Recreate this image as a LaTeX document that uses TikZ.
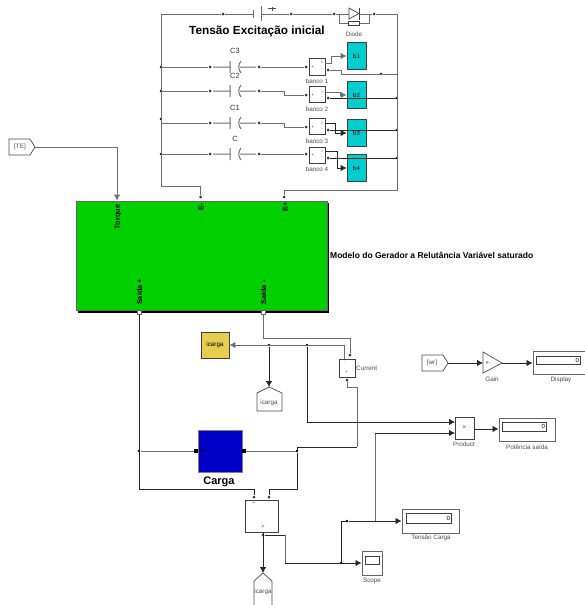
\documentclass[tikz,border=0pt]{standalone}
\usepackage{fontspec}
\setmainfont{Liberation Sans}
\usetikzlibrary{arrows.meta}
\definecolor{wiregray}{RGB}{110,110,110}
\definecolor{modelgreen}{RGB}{0,208,0}
\definecolor{bankcyan}{RGB}{0,205,205}
\definecolor{loadblue}{RGB}{0,0,200}
\definecolor{meteryellow}{RGB}{230,205,80}
\tikzset{
  wire/.style={draw=wiregray, line width=1pt},
  sig/.style={draw=black!85, line width=0.8pt},
  pdot/.style={fill=black!80, circle, inner sep=0pt, minimum size=3pt},
  jdot/.style={fill=black, circle, inner sep=0pt, minimum size=2.6pt},
  blk/.style={draw=black!75, line width=0.8pt, inner sep=0pt},
  bank/.style={blk, fill=white, minimum width=16pt, minimum height=16pt},
  cell/.style={blk, fill=bankcyan, minimum width=19pt, minimum height=27pt, font=\fontsize{6}{7}\selectfont},
  frame/.style={draw=black!60, line width=1pt, fill=white, inner sep=0pt},
  inner/.style={draw=black!75, line width=0.7pt, fill=white, inner sep=0pt},
  tag/.style={text=black!70, font=\fontsize{6.3}{7}\selectfont, inner sep=0pt},
  tiny/.style={text=black!75, font=\fontsize{4.5}{5}\selectfont, inner sep=0pt},
  port/.style={rotate=90, font=\bfseries\fontsize{7.3}{8}\selectfont, inner sep=0pt},
  captag/.style={text=black!80, font=\fontsize{7.5}{8}\selectfont, inner sep=0pt},
  title/.style={font=\bfseries\fontsize{11.8}{13}\selectfont, inner sep=0pt}
}
\begin{document}
\begin{tikzpicture}[x=1pt, y=-1pt, >={Latex[length=6pt,width=6.5pt]}]
\useasboundingbox (0,0) rectangle (585,605);

% excitation source
\coordinate (tl) at (161,14);
\coordinate (tr) at (397,14);
\node[pdot] (batl) at (223,14) {};
\node[pdot] (batr) at (291,14) {};
\node[pdot] (diol) at (334,14) {};
\node[pdot] (dior) at (374,14) {};
\coordinate (batp) at (253,14);
\coordinate (batn) at (261,14);
\draw[wire] (tl) -- (batl);
\draw[wire] (tr) -- (dior);
\draw[wire] (batl) -- (batp);
\draw[wire] (batn) -- (batr);
\draw[wire] (batr) -- (diol);
\draw[wire] (253,10) -- (253,18);
\draw[wire] (261,6) -- (261,21);
\draw[black!70, line width=0.7pt] (268,8.5) -- (276,8.5) (272,6.5) -- (272,10.5);
\draw[wire] (diol) -- (349,14);
\draw[wire] (359,14) -- (dior);
\draw[wire] (339,14) |- (348,23);
\draw[wire] (369,14) |- (359,23);
\draw[black!75, line width=0.7pt, fill=white] (348,21) rectangle (359,25);
\draw[black!75, line width=0.7pt, fill=white] (349,8) -- (359,13.5) -- (349,19) -- cycle;
\draw[black!75, line width=1pt] (359,7.5) -- (359,19.5);
\node[tag] (diodetag) at (354,34) {Diode};
\node[title] (srctitle) at (257,31) {Tensão Excitação inicial};

% capacitor rows
\coordinate (l3) at (161,67);
\coordinate (l2) at (161,91);
\coordinate (l1) at (161,123);
\coordinate (l0) at (161,154);
\node[pdot] (c3a) at (210,67) {};
\node[pdot] (c3b) at (259,67) {};
\node[pdot] (c2a) at (210,91) {};
\node[pdot] (c2b) at (259,91) {};
\node[pdot] (c1a) at (210,123) {};
\node[pdot] (c1b) at (259,123) {};
\node[pdot] (c0a) at (210,154) {};
\node[pdot] (c0b) at (259,154) {};
\node[captag] (c3tag) at (235,51) {C3};
\node[captag] (c2tag) at (235,76) {C2};
\node[captag] (c1tag) at (235,108) {C1};
\node[captag] (c0tag) at (235,139) {C};
\draw[wire] (l3) -- (c3a);
\draw[wire] (l2) -- (c2a);
\draw[wire] (l1) -- (c1a);
\draw[wire] (l0) -- (c0a);
\draw[wire] (213,67) -- (230,67) (230,61) -- (230,73) (241,61) .. controls (238,65) and (238,69) .. (241,73) (240,67) -- (256,67);
\draw[wire] (213,91) -- (230,91) (230,85) -- (230,97) (241,85) .. controls (238,89) and (238,93) .. (241,97) (240,91) -- (256,91);
\draw[wire] (213,123) -- (230,123) (230,117) -- (230,129) (241,117) .. controls (238,121) and (238,125) .. (241,129) (240,123) -- (256,123);
\draw[wire] (213,154) -- (230,154) (230,148) -- (230,160) (241,148) .. controls (238,152) and (238,156) .. (241,160) (240,154) -- (256,154);
\node[jdot] (j3) at (161,67) {};
\node[jdot] (j2) at (161,91) {};
\node[jdot] (j1) at (161,119) {};
\node[jdot] (j0) at (161,154) {};

% voltage banks
\node[bank, minimum height=17pt] (banco1) at (317,66.5) {};
\node[bank] (banco2) at (317,94.5) {};
\node[bank] (banco3) at (317,126.5) {};
\node[bank] (banco4) at (317,155) {};
\node[tag] (banco1tag) at (317,81) {banco 1};
\node[tag] (banco2tag) at (317,109) {banco 2};
\node[tag] (banco3tag) at (317,141) {banco 3};
\node[tag] (banco4tag) at (317,169) {banco 4};
\node[tiny] (b1p) at (313,67) {+};
\node[tiny] (b2p) at (313,95) {+};
\node[tiny] (b3p) at (313,127) {+};
\node[tiny] (b4p) at (313,155) {+};
\node[tiny] (b1i) at (322,62) {i};
\node[tiny] (b2i) at (322,92) {i};
\node[tiny] (b3i) at (322,123) {i};
\node[tiny] (b4i) at (322,151) {i};
\node[tiny] (b1m) at (322,70) {-};
\node[tiny] (b2m) at (322,98) {-};
\node[tiny] (b3m) at (322,130) {-};
\node[tiny] (b4m) at (322,158) {-};
\node[pdot] (b1in) at (306,67) {};
\node[pdot] (b2in) at (306,95) {};
\node[pdot] (b3in) at (306,127) {};
\node[pdot] (b4in) at (306,154) {};
\draw[wire] (c3b) -- (b1in);
\draw[wire] (c2b) -- (284,91) -- (284,95) -- (b2in);
\draw[wire] (c1b) -- (284,123) -- (284,127) -- (b3in);
\draw[wire] (c0b) -- (b4in);
\node[cell] (b1) at (356.5,56) {b1};
\node[cell] (b2) at (356.5,95) {b2};
\node[cell] (b3) at (356.5,133) {b3};
\node[cell] (b4) at (356.5,168) {b4};
\coordinate (o1) at (325,63);
\coordinate (o2) at (325,92);
\coordinate (o3) at (325,123);
\coordinate (o4) at (325,151);
\draw[wire, ->] (o1) -- (331,63) -- (331,56) -- (b1.west);
\draw[wire, ->] (o2) -- (340,92) -- (340,95) -- (b2.west);
\draw[sig, ->] (o3) -- (335,123) -- (335,133) -- (b3.west);
\draw[sig, ->] (o4) -- (337,151) -- (337,168) -- (b4.west);
\node[pdot] (m1) at (328,70) {};
\node[pdot] (m2) at (328,98) {};
\node[pdot] (m3) at (328,130) {};
\node[pdot] (m4) at (328,158) {};
\node[jdot] (r1) at (381,74) {};
\node[jdot] (r2) at (397,98) {};
\node[jdot] (r3) at (397,130) {};
\node[jdot] (r4) at (397,158) {};
\draw[wire] (m1) -- (341,70) -- (341,74) -- (397,74);
\draw[sig] (m2) -- (r2);
\draw[sig] (m3) -- (r3);
\draw[sig] (m4) -- (r4);

% generator model
\coordinate (lb) at (161,186);
\coordinate (rb) at (397,190);
\fill[black] (78,203) rectangle (329,313);
\node[draw=black!60, line width=0.7pt, fill=modelgreen, inner sep=0pt, minimum width=251pt, minimum height=109pt] (model) at (201.5,255.5) {};
\node[pdot] (eneg) at (200.5,197) {};
\node[pdot] (epos) at (284,197) {};
\draw[wire] (tl) -- (lb) -- (200.5,186) -- (eneg);
\draw[wire] (tr) -- (rb) -- (284,190) -- (epos);
\node[port] (torquetag) at (118,217) {Torque};
\node[port] (enegtag) at (201,207) {E-};
\node[port] (epostag) at (285,207) {E+};
\node[port] (spostag) at (139.5,292) {Saída +};
\node[port] (snegtag) at (263.5,292.5) {Saída -};
\node[font=\bfseries\fontsize{8.5}{10}\selectfont, inner sep=0pt, anchor=west] (modeltag) at (330,255) {Modelo do Gerador a Relutância Variável saturado};
\node[draw=black!60, line width=0.6pt, fill=white, inner sep=0pt, minimum size=4pt] (spos) at (139,312) {};
\node[draw=black!60, line width=0.6pt, fill=white, inner sep=0pt, minimum size=4pt] (sneg) at (263,312) {};
\node[tag] (tegoto) at (20,147) {[TE]};
\coordinate (tetip) at (35,147);
\draw[black!70, line width=0.7pt] (9,139) -- (30,139) -- (tetip) -- (30,155) -- (9,155) -- cycle;
\draw[wire, ->] (tetip) -- (117,147) -- (117,200.5);

% current measurement
\node[blk, fill=white, minimum width=16pt, minimum height=18pt] (current) at (347,368) {};
\node[tag, anchor=west] (currenttag) at (356,368) {Current};
\node[tiny] (curp) at (346.5,372.5) {+};
\node[tiny] (curm) at (342,362) {- \ \ .};
\node[pdot] (curin) at (350,355) {};
\node[pdot] (curout) at (347,380) {};
\draw[wire] (sneg) -- (263,338) -- (350,338) -- (curin);
\node[blk, fill=meteryellow, minimum width=28pt, minimum height=26pt, font=\fontsize{6.3}{7}\selectfont] (icmeter) at (215,345) {icarga};
\node[jdot] (ij1) at (269,345) {};
\node[jdot] (ij2) at (307,345) {};
\draw[wire, ->] (344,359) -- (344,345) -- (icmeter.east);
\node[tag] (icgoto) at (269,403) {icarga};
\coordinate (ictip) at (269,387);
\draw[black!70, line width=0.7pt] (ictip) -- (282,393) -- (282,411) -- (257,411) -- (257,393) -- cycle;
\draw[sig, ->] (ij1) -- (ictip);

% load
\node[draw=black!50, line width=0.6pt, fill=loadblue, inner sep=0pt, minimum width=44pt, minimum height=42pt] (carga) at (220,451) {};
\node[font=\bfseries\fontsize{8}{9}\selectfont, inner sep=0pt] (cargap) at (202.5,451) {+};
\node[font=\bfseries\fontsize{8}{9}\selectfont, inner sep=0pt] (cargam) at (238,451) {-};
\node[font=\bfseries\fontsize{11}{13}\selectfont, inner sep=0pt] (cargatag) at (219,482) {Carga};
\node[fill=black, inner sep=0pt, minimum size=4.5pt] (cargal) at (196,451) {};
\node[fill=black, inner sep=0pt, minimum size=4.5pt] (cargar) at (244,451) {};
\node[jdot] (jl) at (139,451) {};
\node[jdot] (jr) at (297,451) {};
\node[pdot] (subp) at (254,497) {};
\node[pdot] (subm) at (269,497) {};
\draw[wire] (jl) -- (cargal);
\draw[wire] (cargar) -- (jr);
\draw[sig] (spos) -- (139,489) -- (254,489) -- (subp);
\draw[sig] (jr) -- (297,489) -- (269,489) -- (subm);
\draw[sig] (jr) -- (297,447) -- (357,447);
\draw[wire] (357,447) -- (357,387) -- (347,387) -- (curout);

% voltage measurement
\node[blk, fill=white, minimum width=33pt, minimum height=32pt] (volt) at (261.5,516) {};
\node[tiny] (voltp) at (254,503) {+};
\node[tiny] (voltm) at (269,503) {.};
\node[tiny, font=\fontsize{5.5}{6}\selectfont] (voltv) at (263,527) {>};
\node[pdot] (voltout) at (263,535) {};
\node[tag] (icgoto2) at (263,592) {icarga};
\coordinate (ictip2) at (263,573);
\draw[black!70, line width=0.7pt] (254,605) -- (254,581) -- (ictip2) -- (272,581) -- (272,605);
\draw[sig, ->] (volt.south -| voltout) -- (ictip2);
\node[jdot] (vj) at (341,563) {};
\node[jdot] (vj2) at (347,521) {};
\node[frame, minimum width=20pt, minimum height=24pt] (scope) at (372,563) {};
\node[inner, minimum width=14pt, minimum height=8pt] (scopescreen) at (372,560) {};
\node[tag] (scopetag) at (372,581) {Scope};
\draw[sig] (voltout) -- (285,535);
\draw[wire] (285,535) -- (285,563);
\draw[sig, ->] (285,563) -- (scope.west);
\draw[sig] (vj) -- (341,521) -- (vj2);
\node[frame, minimum width=57pt, minimum height=24pt] (vdisp) at (430.5,521) {};
\node[inner, minimum width=45pt, minimum height=10pt, font=\fontsize{6}{7}\selectfont, align=right, text width=43pt] (vdispval) at (428.5,518) {0};
\node[tag] (vdisptag) at (431,538) {Tensão Carga};
\draw[sig, ->] (vj2) -- (vdisp.west);

% power
\node[blk, fill=white, minimum width=19pt, minimum height=22pt, text=black!65, font=\fontsize{7}{8}\selectfont] (product) at (464.5,428) {×};
\node[tag] (producttag) at (464,444) {Product};
\coordinate (pin1) at (455,422);
\coordinate (pin2) at (455,433);
\draw[sig, ->] (ij2) -- (307,422) -- (pin1);
\draw[wire] (375,521) -- (375,433);
\draw[sig, ->] (375,433) -- (pin2);
\node[frame, minimum width=56pt, minimum height=23pt] (pdisp) at (527,429.5) {};
\node[inner, minimum width=44pt, minimum height=9pt, font=\fontsize{6}{7}\selectfont, align=right, text width=42pt] (pdispval) at (524,426.5) {0};
\node[tag] (pdisptag) at (527,447) {Potência saída};
\draw[sig, ->] (product.east |- 0,429) -- (pdisp.west |- 0,429);

% speed
\node[tag] (wrgoto) at (432,363) {[wr]};
\coordinate (wrtip) at (448,363);
\draw[black!70, line width=0.7pt] (422,355) -- (443,355) -- (wrtip) -- (443,371) -- (422,371) -- cycle;
\coordinate (gainin) at (483,363);
\coordinate (gainout) at (502,363);
\draw[black!70, line width=0.7pt] (483,352) -- (gainout) -- (483,373) -- cycle;
\node[tiny] (gaink) at (488,362.5) {K-};
\node[tag] (gaintag) at (492,379) {Gain};
\draw[sig, ->] (wrtip) -- (gainin);
\node[frame, minimum width=52pt, minimum height=23pt] (sdisp) at (559,363) {};
\node[inner, minimum width=44pt, minimum height=8pt, font=\fontsize{6}{7}\selectfont, align=right, text width=42pt] (sdispval) at (558,360) {0};
\node[tag] (sdisptag) at (561,380) {Display};
\draw[sig, ->] (gainout) -- (sdisp.west);
\end{tikzpicture}
\end{document}
